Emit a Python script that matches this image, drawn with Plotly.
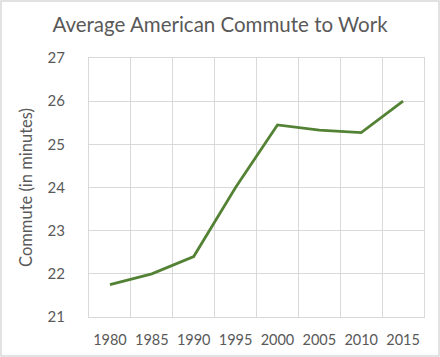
import plotly.graph_objects as go

years = ["1980", "1985", "1990", "1995", "2000", "2005", "2010", "2015"]
commute_minutes = [21.75, 22.0, 22.4, 24.0, 25.45, 25.33, 25.27, 26.0]

W, H = 440, 357
L, R, T, B = 89, 16, 58, 40
pw, ph = W - L - R, H - T - B

fig = go.Figure(go.Scatter(
    x=years, y=commute_minutes, mode="lines",
    line=dict(color="#548235", width=2.75),
))

grid = "#d9d9d9"
txt = "#595959"
font_family = "Lato, 'Open Sans', sans-serif"

fig.update_layout(
    width=W, height=H,
    margin=dict(l=L, r=R, t=T, b=B, autoexpand=False),
    paper_bgcolor="white", plot_bgcolor="white",
    showlegend=False,
    font=dict(family=font_family, color=txt, size=15),
    title=dict(text="Average American Commute to Work", x=0.5, xanchor="center",
               y=1 - 25 / H, yanchor="middle", font=dict(size=20.5, color=txt, family=font_family)),
    xaxis=dict(type="category", tickson="boundaries", range=[-0.5, 7.5],
               showgrid=True, gridcolor=grid, gridwidth=1,
               showline=True, linecolor=grid, mirror=True, automargin=False,
               ticks="", tickangle=0, tickfont=dict(size=14.5, color=txt), ticklabelstandoff=10),
    yaxis=dict(range=[21, 27], dtick=1, tick0=21,
               showgrid=True, gridcolor=grid, gridwidth=1,
               showline=True, linecolor=grid, mirror=True, zeroline=False, automargin=False,
               ticks="", tickfont=dict(size=15, color=txt), ticklabelstandoff=20,
               title=dict(text="Commute (in minutes)", font=dict(size=16.5, color=txt), standoff=10)),
    shapes=[dict(type="rect", xref="paper", yref="paper",
                 x0=(1 - L) / pw, x1=(W - 1 - L) / pw,
                 y0=-(B - 1) / ph, y1=1 + (T - 1) / ph,
                 line=dict(color=grid, width=1.5), layer="above")],
)
fig.write_html("out.html", config={"displayModeBar": False},
               post_script="document.body.style.margin='0px';document.body.style.overflow='hidden';")
